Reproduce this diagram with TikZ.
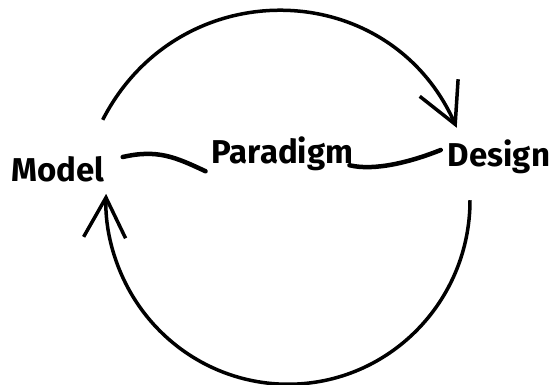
\documentclass[tikz,border=0pt]{standalone}
\usepackage{fontspec}
\setmainfont{Fira Sans}
\usetikzlibrary{arrows.meta}
\tikzset{
  wordbox/.style={font=\bfseries\fontsize{33}{36}\selectfont,inner sep=0pt},
  bridge/.style={line width=4.5pt,line cap=round},
  cyclearc/.style={line width=3.5pt,-{Straight Barb[length=40pt,width=42pt]}}
}

\begin{document}
\begin{tikzpicture}[x=1pt,y=-1pt]
  \useasboundingbox (0,0) rectangle (551,385);
  % Words
  \node[wordbox,minimum width=88pt,minimum height=28pt] (model) at (58,169) {Model};
  \node[wordbox,minimum width=139pt,minimum height=34pt] (paradigm) at (282.5,154) {Paradigm};
  \node[wordbox,minimum width=98pt,minimum height=30pt] (design) at (499,157) {Design};
  % Short links through Paradigm
  \draw[bridge] ([shift={(18,-12)}]model.east) .. controls +(35,-8) and +(-30,-14) .. ([shift={(-6,0)}]paradigm.south west);
  \draw[bridge] ([shift={(-4,-6)}]paradigm.south east) .. controls +(25,6) and +(-30,12) .. ([shift={(-7,-7)}]design.west);
  % Upper arc: Model to Design
  \draw[cyclearc] ([shift={(-2,-35)}]model.north east) .. controls +(-62.8:167) and +(246:167) .. ([shift={(9,-12)}]design.north west);
  % Lower arc: Design back to Model
  \draw[cyclearc] ([shift={(-29,26)}]design.south) arc[start angle=0,end angle=182,x radius=182,y radius=184];
\end{tikzpicture}
\end{document}
